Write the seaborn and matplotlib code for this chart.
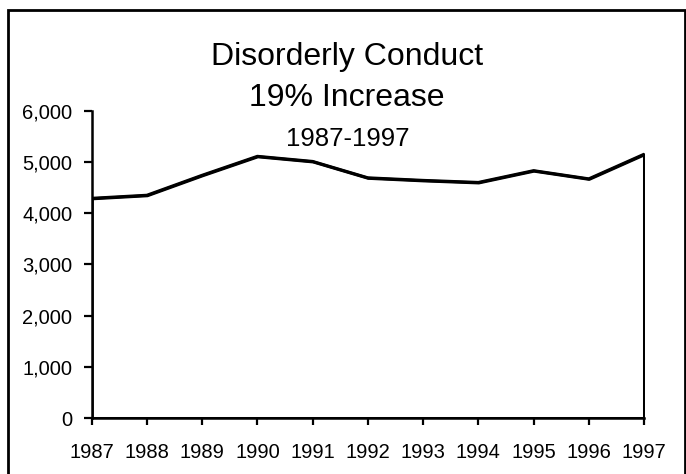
import matplotlib
matplotlib.use("Agg")
from matplotlib import pyplot as plt
from matplotlib.patches import Rectangle
from matplotlib.ticker import FuncFormatter
import seaborn as sns
import pandas as pd

# data
years = [1987, 1988, 1989, 1990, 1991, 1992, 1993, 1994, 1995, 1996, 1997]
incidents = [4290, 4350, 4740, 5110, 5010, 4690, 4640, 4600, 4830, 4670, 5150]
y_ticks = [0, 1000, 2000, 3000, 4000, 5000, 6000]

title_lines = ["Disorderly Conduct", "19% Increase"]
subtitle = "1987-1997"

df = pd.DataFrame({"year": years, "count": incidents})

sns.set_style("ticks")
plt.rcParams["font.family"] = ["Liberation Sans", "DejaVu Sans"]
plt.rcParams["text.color"] = "black"

fig = plt.figure(figsize=(6.86, 4.74), dpi=100)
ax = fig.add_axes([0.1337, 0.1181, 0.8051, 0.6483])

# area outline (white fill, black edge like the old spreadsheet area chart)
ax.fill_between(df["year"], df["count"], color="white", edgecolor="black", linewidth=2.2, zorder=2)
sns.lineplot(data=df, x="year", y="count", color="black", linewidth=2.2, ax=ax, zorder=3)

ax.set_xlim(years[0], years[-1])
ax.set_ylim(0, 6000)
ax.set_xticks(years)
ax.set_yticks(y_ticks)
ax.yaxis.set_major_formatter(FuncFormatter(lambda v, p: f"{int(v):,}"))
ax.set_xlabel("")
ax.set_ylabel("")

for s in ["top", "right"]:
    ax.spines[s].set_visible(False)
for s in ["left", "bottom"]:
    ax.spines[s].set_linewidth(1.8)
    ax.spines[s].set_color("black")

ax.tick_params(axis="x", direction="out", length=5, width=1.6, pad=13, labelsize=14.5,
               colors="black", labelcolor="black")
ax.tick_params(axis="y", direction="out", length=6, width=1.6, pad=8, labelsize=14.5,
               colors="black", labelcolor="black")

# title block inside the chart area
fig.text(0.506, 1 - 65 / 474, title_lines[0], ha="center", va="baseline", fontsize=23, color="black")
fig.text(0.506, 1 - 106 / 474, title_lines[1], ha="center", va="baseline", fontsize=23, color="black")
fig.text(0.507, 1 - 146 / 474, subtitle, ha="center", va="baseline", fontsize=18.5, color="black")

# outer frame around the whole chart
fig.patches.append(Rectangle((7.5 / 686, -0.02), (684.7 - 7.5) / 686, 1 - 10 / 474 + 0.02,
                             transform=fig.transFigure, fill=False, edgecolor="black", linewidth=2))

fig.savefig("out.png", dpi=100)
